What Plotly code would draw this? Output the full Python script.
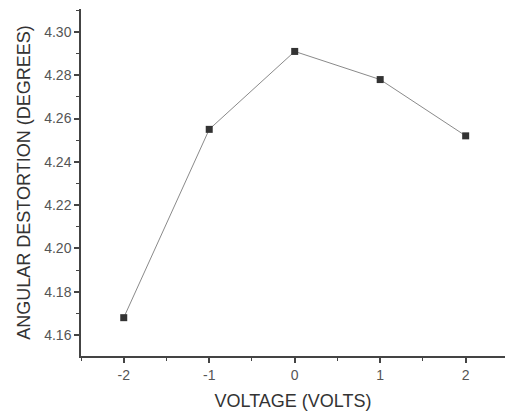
import plotly.graph_objects as go

voltage = [-2, -1, 0, 1, 2]
distortion = [4.168, 4.255, 4.291, 4.278, 4.252]
x_ticks = [-2, -1, 0, 1, 2]
y_ticks = [4.16, 4.18, 4.20, 4.22, 4.24, 4.26, 4.28, 4.30]

fig = go.Figure()
fig.add_trace(go.Scatter(
    x=voltage, y=distortion, mode="lines+markers",
    line=dict(color="#8a8a8a", width=1),
    marker=dict(symbol="square", size=7, color="#333333"),
    showlegend=False,
))

axis_font = dict(family="Liberation Sans, Arial, sans-serif", size=14, color="#555555")
title_font = dict(family="Liberation Sans, Arial, sans-serif", size=18, color="#333333")
fig.update_layout(
    width=505, height=412,
    margin=dict(l=81, r=0, t=9, b=56),
    paper_bgcolor="white", plot_bgcolor="white",
    xaxis=dict(
        range=[-2.5, 2.46], tickvals=x_ticks, ticktext=[str(v) for v in x_ticks],
        showgrid=False, zeroline=False, showline=True, linecolor="#444444", linewidth=1.5,
        ticks="outside", ticklen=5, tickwidth=1.5, tickcolor="#444444",
        minor=dict(ticks="outside", ticklen=3, dtick=0.5, tick0=0, tickcolor="#444444", tickwidth=1.2, showgrid=False),
        tickfont=axis_font,
        title=dict(text="VOLTAGE (VOLTS)", standoff=13, font=title_font),
    ),
    yaxis=dict(
        range=[4.1503, 4.3106], tickvals=y_ticks, ticktext=[f"{v:.2f}" for v in y_ticks],
        showgrid=False, zeroline=False, showline=True, linecolor="#444444", linewidth=1.5,
        ticks="outside", ticklen=5, tickwidth=1.5, tickcolor="#444444",
        minor=dict(ticks="outside", ticklen=3, dtick=0.01, tick0=4.16, tickcolor="#444444", tickwidth=1.2, showgrid=False),
        tickfont=axis_font,
        title=dict(text="ANGULAR DESTORTION (DEGREES)", standoff=9, font=title_font),
    ),
)

fig.write_html("out.html")
